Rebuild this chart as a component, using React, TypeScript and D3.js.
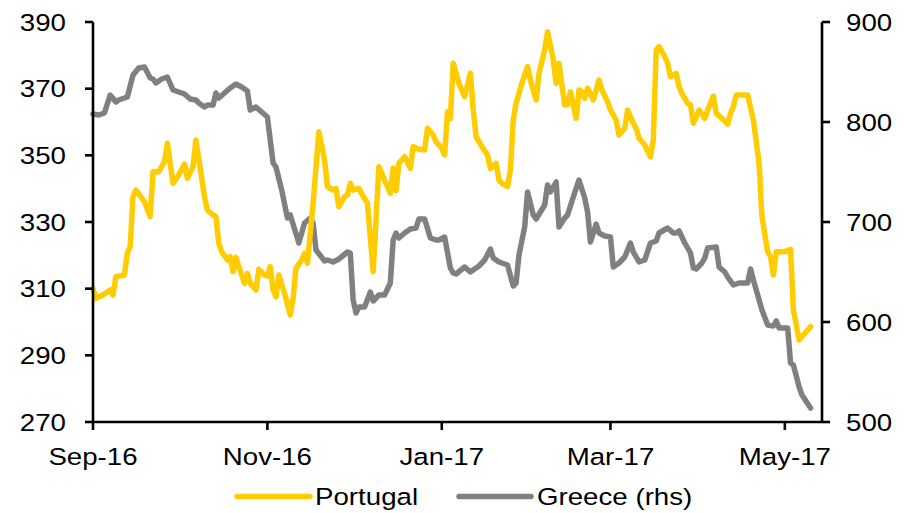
import React from "react";
import * as d3 from "d3";

const portugalDates = [
  "2016-09-01","2016-09-02","2016-09-05","2016-09-07","2016-09-08","2016-09-09","2016-09-12","2016-09-13","2016-09-14","2016-09-15",
  "2016-09-16","2016-09-19","2016-09-21","2016-09-22","2016-09-24","2016-09-26","2016-09-27","2016-09-29","2016-10-01","2016-10-03",
  "2016-10-04","2016-10-06","2016-10-07","2016-10-10","2016-10-11","2016-10-13","2016-10-14","2016-10-15","2016-10-16","2016-10-18",
  "2016-10-19","2016-10-20","2016-10-21","2016-10-22","2016-10-24","2016-10-25","2016-10-26","2016-10-28","2016-10-29","2016-10-31",
  "2016-11-01","2016-11-02","2016-11-03","2016-11-04","2016-11-05","2016-11-07","2016-11-09","2016-11-10","2016-11-11","2016-11-13",
  "2016-11-14","2016-11-15","2016-11-16","2016-11-17","2016-11-19","2016-11-21","2016-11-22","2016-11-24","2016-11-25","2016-11-26",
  "2016-11-28","2016-11-29","2016-11-30","2016-12-01","2016-12-03","2016-12-04","2016-12-06","2016-12-08","2016-12-10","2016-12-12",
  "2016-12-14","2016-12-15","2016-12-16","2016-12-17","2016-12-18","2016-12-19","2016-12-21","2016-12-22","2016-12-24","2016-12-26",
  "2016-12-27","2016-12-29","2016-12-30","2017-01-01","2017-01-02","2017-01-03","2017-01-04","2017-01-05","2017-01-07","2017-01-09",
  "2017-01-11","2017-01-12","2017-01-13","2017-01-15","2017-01-17","2017-01-18","2017-01-20","2017-01-21","2017-01-22","2017-01-24",
  "2017-01-25","2017-01-26","2017-01-27","2017-01-29","2017-01-31","2017-02-01","2017-02-03","2017-02-04","2017-02-06","2017-02-07",
  "2017-02-09","2017-02-10","2017-02-11","2017-02-12","2017-02-13","2017-02-14","2017-02-15","2017-02-17","2017-02-18","2017-02-19",
  "2017-02-20","2017-02-21","2017-02-23","2017-02-25","2017-02-26","2017-02-28","2017-03-01","2017-03-03","2017-03-04","2017-03-06",
  "2017-03-07","2017-03-09","2017-03-10","2017-03-11","2017-03-13","2017-03-15","2017-03-16","2017-03-17","2017-03-18","2017-03-20",
  "2017-03-21","2017-03-22","2017-03-24","2017-03-25","2017-03-26","2017-03-28","2017-03-29","2017-03-30","2017-04-01","2017-04-03",
  "2017-04-04","2017-04-06","2017-04-07","2017-04-09","2017-04-11","2017-04-12","2017-04-13","2017-04-14","2017-04-18","2017-04-20",
  "2017-04-22","2017-04-23","2017-04-25","2017-04-26","2017-04-27","2017-04-28","2017-05-01","2017-05-03","2017-05-04","2017-05-06",
  "2017-05-08","2017-05-10"
];
const portugalValues = [
  310,307.1,308.4,309.6,308.1,313.6,314.1,320.6,322.6,337.6,
  339.6,336.1,331.6,345.1,345.1,348.1,353.6,341.6,344.1,347.4,
  343.1,346.6,354.6,337.6,333.6,332.1,331.6,323.6,321.1,318.6,
  319.6,315.1,319.4,316.6,311.6,314.6,311.6,309.6,315.8,314.1,
  313.8,316.6,309.6,307.6,314.1,308.6,302.1,307.1,316.1,318.6,
  320.6,317.6,326.6,335.6,357.1,348.6,340.6,339.6,340.1,334.6,
  337.6,338.1,341.6,339.6,340.1,338.4,335.6,315.1,346.6,342.6,
  338.6,346.1,339.4,347.6,348.6,349.6,346.1,352.6,351.8,351.6,
  358.1,356.1,354.1,352.1,350.1,363.1,361,377.6,371.6,367.6,
  374.6,363.6,355.6,352.6,350.1,346.1,347.6,342.6,341.6,340.6,
  345.6,360.6,365.6,371.6,376.6,372.6,366.6,374.6,381.6,387.1,
  378.6,371.6,377.6,371.1,365.1,365.1,369.1,361.1,369.6,369.1,
  367.1,370.1,366.6,372.6,369.6,366.1,363.6,360.6,356.1,358.1,
  363.6,359.6,358.1,355.1,353.1,349.6,354.6,381.6,382.6,379.6,
  377.6,373.6,374.6,370.6,368.6,365.6,365.1,359.6,363.6,361.1,
  363.6,367.8,362.6,361.1,359.4,362.6,364.6,368.1,368.1,360.6,
  347.6,331.6,321.1,319.6,314.1,321.1,321.1,321.8,303.6,294.6,
  296.6,298.6
];

const greeceDates = [
  "2016-09-01","2016-09-03","2016-09-05","2016-09-07","2016-09-09","2016-09-10","2016-09-13","2016-09-15","2016-09-17","2016-09-19",
  "2016-09-21","2016-09-22","2016-09-23","2016-09-25","2016-09-27","2016-09-29","2016-10-01","2016-10-03","2016-10-05","2016-10-07",
  "2016-10-08","2016-10-10","2016-10-11","2016-10-13","2016-10-14","2016-10-15","2016-10-17","2016-10-19","2016-10-21","2016-10-23",
  "2016-10-25","2016-10-26","2016-10-28","2016-10-30","2016-11-01","2016-11-02","2016-11-03","2016-11-04","2016-11-06","2016-11-08",
  "2016-11-09","2016-11-12","2016-11-14","2016-11-16","2016-11-17","2016-11-18","2016-11-21","2016-11-22","2016-11-24","2016-11-26",
  "2016-11-29","2016-11-30","2016-12-01","2016-12-02","2016-12-03","2016-12-05","2016-12-07","2016-12-08","2016-12-10","2016-12-12",
  "2016-12-14","2016-12-15","2016-12-16","2016-12-17","2016-12-19","2016-12-21","2016-12-23","2016-12-24","2016-12-26","2016-12-28",
  "2016-12-30","2016-12-31","2017-01-02","2017-01-04","2017-01-05","2017-01-06","2017-01-09","2017-01-11","2017-01-14","2017-01-16",
  "2017-01-18","2017-01-19","2017-01-21","2017-01-24","2017-01-26","2017-01-27","2017-01-28","2017-01-30","2017-01-31","2017-02-02",
  "2017-02-03","2017-02-06","2017-02-07","2017-02-08","2017-02-10","2017-02-11","2017-02-13","2017-02-14","2017-02-16","2017-02-18",
  "2017-02-20","2017-02-21","2017-02-22","2017-02-24","2017-02-25","2017-02-27","2017-03-01","2017-03-02","2017-03-04","2017-03-06",
  "2017-03-08","2017-03-09","2017-03-11","2017-03-13","2017-03-15","2017-03-17","2017-03-18","2017-03-21","2017-03-23","2017-03-24",
  "2017-03-25","2017-03-27","2017-03-29","2017-03-30","2017-03-31","2017-04-02","2017-04-03","2017-04-04","2017-04-07","2017-04-08",
  "2017-04-10","2017-04-11","2017-04-13","2017-04-15","2017-04-18","2017-04-19","2017-04-20","2017-04-21","2017-04-23","2017-04-25",
  "2017-04-27","2017-04-28","2017-04-29","2017-05-02","2017-05-03","2017-05-04","2017-05-06","2017-05-07","2017-05-10"
];
const greeceValues = [
  808,807,809,827,820,822,825,847,854,855,
  844,843,839,843,845,832,830,828,823,822,
  819,815,817,817,829,824,829,834,838,835,
  831,812,815,810,805,782,759,755,732,704,
  707,679,699,704,699,672,661,662,660,663,
  670,669,622,609,615,615,630,621,627,627,
  639,682,689,684,689,693,694,703,703,684,
  682,682,685,654,649,648,655,650,656,662,
  673,664,660,657,636,639,667,695,730,707,
  703,717,737,730,740,695,704,707,725,742,
  724,710,680,698,689,686,685,655,659,665,
  679,670,660,662,679,681,689,694,689,689,
  691,679,669,654,653,659,664,674,675,655,
  650,645,637,639,639,653,642,632,612,597,
  596,601,594,594,559,557,535,527,514
];

const leftTicks = [270, 290, 310, 330, 350, 370, 390];
const rightTicks = [500, 600, 700, 800, 900];
const xTickDates = ["2016-09-01", "2016-11-01", "2017-01-01", "2017-03-01", "2017-05-01"];
const xTickLabels = ["Sep-16", "Nov-16", "Jan-17", "Mar-17", "May-17"];
const seriesNames = ["Portugal", "Greece (rhs)"];

const W = 908, H = 513;
const L = 93, R = 822, T = 22, B = 422;
const YELLOW = "#FFCC00";
const GREY = "#808080";
const FONT = "'Liberation Sans', Arial, sans-serif";
const FS = 24.5;
const SX = 1.13;

export default function App() {
  const parse = d3.timeParse("%Y-%m-%d");
  const x = d3.scaleTime().domain([parse("2016-09-01")!, parse("2017-05-14")!]).range([L, R]);
  const yL = d3.scaleLinear().domain([270, 390]).range([B, T]);
  const yR = d3.scaleLinear().domain([500, 900]).range([B, T]);

  const pData = portugalDates.map((d, i) => ({ d: parse(d)!, v: portugalValues[i] }));
  const gData = greeceDates.map((d, i) => ({ d: parse(d)!, v: greeceValues[i] }));

  const lineP = d3.line<{ d: Date; v: number }>().x(p => x(p.d)).y(p => yL(p.v));
  const lineG = d3.line<{ d: Date; v: number }>().x(p => x(p.d)).y(p => yR(p.v));

  const txt = (s: string, tx: number, ty: number, anchor: string, key?: string) => (
    <text key={key} transform={`translate(${tx},${ty}) scale(${SX},1)`} textAnchor={anchor}
      fontFamily={FONT} fontSize={FS} fill="#000">{s}</text>
  );

  return (
    <svg width={W} height={H} style={{ position: "absolute", left: 0, top: 0, background: "#fff" }}>
      <path d={lineG(gData) || ""} fill="none" stroke={GREY} strokeWidth={5.5} strokeLinejoin="round" strokeLinecap="round" />
      <path d={lineP(pData) || ""} fill="none" stroke={YELLOW} strokeWidth={5.5} strokeLinejoin="round" strokeLinecap="round" />

      <g stroke="#000" strokeWidth={2.6} fill="none">
        <line x1={L} x2={L} y1={T} y2={B} />
        <line x1={R} x2={R} y1={T} y2={B} />
        <line x1={L} x2={R} y1={B} y2={B} />
        {leftTicks.map(t => <line key={"lt" + t} x1={L - 8} x2={L} y1={yL(t)} y2={yL(t)} />)}
        {rightTicks.map(t => <line key={"rt" + t} x1={R} x2={R + 8} y1={yR(t)} y2={yR(t)} />)}
        {xTickDates.map(t => <line key={"xt" + t} x1={x(parse(t)!)} x2={x(parse(t)!)} y1={B} y2={B + 8} />)}
      </g>
      {leftTicks.map(t => txt(String(t), 66, yL(t) + 8.8, "end", "ll" + t))}
      {rightTicks.map(t => txt(String(t), 846, yR(t) + 8.8, "start", "rl" + t))}
      {xTickDates.map((t, i) => txt(xTickLabels[i], x(parse(t)!), 465, "middle", "xl" + t))}

      <line x1={237} x2={310} y1={496.5} y2={496.5} stroke={YELLOW} strokeWidth={5.5} strokeLinecap="round" />
      {txt(seriesNames[0], 315, 505, "start", "lg0")}
      <line x1={459} x2={531} y1={496.5} y2={496.5} stroke={GREY} strokeWidth={5.5} strokeLinecap="round" />
      {txt(seriesNames[1], 537, 505, "start", "lg1")}
    </svg>
  );
}
